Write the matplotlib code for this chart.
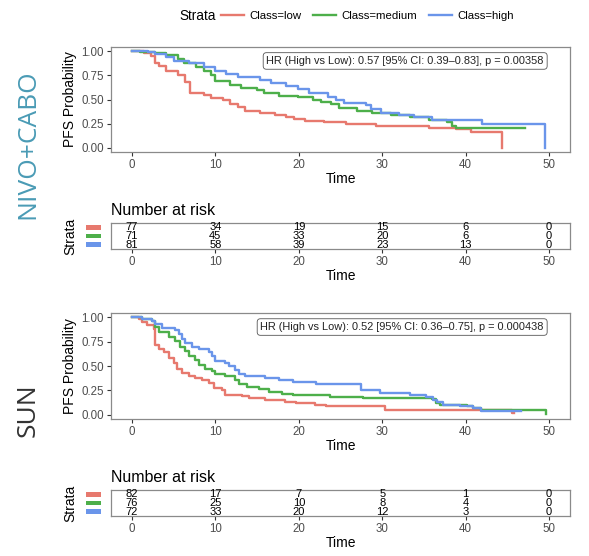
import matplotlib.pyplot as plt
from matplotlib.lines import Line2D
from matplotlib.patches import Rectangle
import matplotlib.transforms as mtransforms

plt.rcParams['font.family'] = ['Liberation Sans', 'DejaVu Sans']

# Data: Kaplan-Meier step curves (time, PFS probability)
classes = ['Class=low', 'Class=medium', 'Class=high']
colors = ['#E7796E', '#4DAF4A', '#6A95EA']
risk_times = [0, 10, 20, 30, 40, 50]

# NIVO+CABO
nc_low_t = [0, 1.4, 2.3, 2.8, 3.2, 4.1, 5.5, 6.4, 7.0, 8.6, 9.5, 10.9, 11.8, 12.7, 13.6,
            15.4, 17.2, 18.5, 19.4, 20.8, 23.0, 25.7, 29.3, 33.8, 35.6, 38.8, 40.6, 44.4]
nc_low_s = [1.0, 0.98, 0.95, 0.88, 0.85, 0.80, 0.75, 0.68, 0.57, 0.55, 0.52, 0.50, 0.45, 0.42, 0.38,
            0.36, 0.34, 0.32, 0.30, 0.28, 0.27, 0.25, 0.23, 0.22, 0.20, 0.19, 0.16, 0.0]
nc_med_t = [0, 1.0, 2.8, 4.1, 5.5, 6.3, 7.7, 8.6, 9.5, 10.0, 11.8, 13.1, 15.0, 15.8, 17.6,
            19.9, 21.7, 22.6, 23.9, 24.8, 27.0, 28.8, 31.1, 33.3, 35.6, 37.8, 38.3, 38.8, 47.1]
nc_med_s = [1.0, 0.99, 0.98, 0.96, 0.92, 0.88, 0.84, 0.80, 0.75, 0.69, 0.65, 0.62, 0.60, 0.57, 0.54,
            0.53, 0.50, 0.47, 0.45, 0.41, 0.38, 0.36, 0.34, 0.32, 0.29, 0.27, 0.23, 0.20, 0.20]
nc_high_t = [0, 1.9, 2.8, 4.1, 5.0, 6.8, 8.6, 10.0, 11.3, 12.7, 15.4, 16.7, 18.5, 19.9, 21.2,
             23.5, 24.5, 25.4, 28.1, 28.6, 29.9, 32.0, 33.8, 36.0, 41.9, 49.5]
nc_high_s = [1.0, 0.99, 0.97, 0.94, 0.90, 0.88, 0.84, 0.80, 0.76, 0.73, 0.70, 0.67, 0.64, 0.61, 0.57,
             0.53, 0.50, 0.46, 0.44, 0.40, 0.36, 0.34, 0.32, 0.29, 0.25, 0.0]
nc_risk = [[77, 34, 19, 15, 6, 0], [71, 45, 33, 20, 6, 0], [81, 58, 39, 23, 13, 0]]
nc_hr = 'HR (High vs Low): 0.57 [95% CI: 0.39\u20130.83], p = 0.00358'

# SUN
sun_low_t = [0, 0.8, 1.2, 1.8, 2.6, 2.8, 3.2, 3.8, 4.4, 5.0, 5.4, 6.0, 6.8, 7.6, 8.4, 9.2, 9.8,
             10.8, 11.2, 13.2, 14.0, 16.0, 18.4, 19.7, 22.0, 23.3, 30.3, 45.6, 45.8]
sun_low_s = [1.0, 0.98, 0.95, 0.92, 0.88, 0.72, 0.68, 0.64, 0.58, 0.53, 0.47, 0.43, 0.40, 0.38, 0.36,
             0.33, 0.27, 0.25, 0.20, 0.19, 0.17, 0.15, 0.13, 0.12, 0.10, 0.09, 0.05, 0.02, 0.02]
sun_med_t = [0, 1.2, 2.4, 2.8, 3.2, 4.4, 5.2, 5.8, 6.4, 6.8, 7.6, 8.0, 8.8, 9.6, 10.0, 11.2, 12.4,
             12.8, 13.8, 15.2, 16.4, 18.0, 19.3, 23.7, 27.7, 36.0, 36.4, 36.9, 40.2, 40.9, 41.8, 49.6, 49.6]
sun_med_s = [1.0, 0.98, 0.96, 0.90, 0.85, 0.80, 0.76, 0.70, 0.65, 0.60, 0.56, 0.51, 0.47, 0.45, 0.42,
             0.40, 0.36, 0.31, 0.28, 0.26, 0.23, 0.21, 0.20, 0.18, 0.17, 0.16, 0.12, 0.10, 0.09, 0.07,
             0.05, 0.04, 0.01]
sun_high_t = [0, 1.2, 2.4, 2.8, 3.6, 5.2, 5.6, 6.0, 6.4, 7.2, 8.0, 9.2, 9.6, 10.0, 11.2, 11.6, 12.4,
              12.8, 13.6, 16.0, 17.6, 19.3, 22.1, 27.5, 29.7, 33.3, 35.3, 36.1, 36.5, 37.3, 39.3,
              40.9, 41.8, 46.6]
sun_high_s = [1.0, 0.98, 0.96, 0.93, 0.89, 0.87, 0.83, 0.78, 0.74, 0.70, 0.67, 0.64, 0.60, 0.55, 0.53,
              0.50, 0.46, 0.42, 0.40, 0.38, 0.36, 0.34, 0.32, 0.25, 0.22, 0.20, 0.18, 0.15, 0.13, 0.10,
              0.09, 0.07, 0.04, 0.04]
sun_risk = [[82, 17, 7, 5, 1, 0], [76, 25, 10, 8, 4, 0], [72, 33, 20, 12, 3, 0]]
sun_hr = 'HR (High vs Low): 0.52 [95% CI: 0.36\u20130.75], p = 0.000438'

SPINE = '#8a8a8a'
TICKC = '#4d4d4d'


def style_axes(ax):
    for sp in ax.spines.values():
        sp.set_color(SPINE)
        sp.set_linewidth(0.9)
    ax.tick_params(direction='out', length=3, width=0.8, color='#333333',
                   labelsize=8.3, labelcolor=TICKC, pad=2)
    ax.set_xlim(-2.5, 52.5)
    ax.set_xticks(risk_times)


def km_panel(ax, curves, hr_text):
    for (t, s), c in zip(curves, colors):
        ax.step(t, s, where='post', color=c, lw=1.7)
    style_axes(ax)
    ax.set_ylim(-0.045, 1.045)
    ax.set_yticks([0, 0.25, 0.5, 0.75, 1.0])
    ax.set_yticklabels(['0.00', '0.25', '0.50', '0.75', '1.00'])
    ax.set_xlabel('Time', fontsize=10, labelpad=1)
    ax.set_ylabel('PFS Probability', fontsize=10, labelpad=3)
    ax.text(0.943, 0.915, hr_text, transform=ax.transAxes, ha='right', va='top',
            fontsize=7.9, color='#222222',
            bbox=dict(boxstyle='round,pad=0.3', facecolor='white', edgecolor='#555555', lw=0.6))


def risk_panel(ax, risk):
    style_axes(ax)
    ax.set_ylim(0.5, 3.5)
    ax.set_yticks([])
    for row, (vals, c) in enumerate(zip(risk, colors)):
        y = 3 - row
        for x, v in zip(risk_times, vals):
            ax.text(x, y, str(v), ha='center', va='center', fontsize=8, color='black')
        trans = mtransforms.blended_transform_factory(ax.transAxes, ax.transData)
        ax.add_patch(Rectangle((-0.0545, y - 0.28), 0.0327, 0.56, transform=trans,
                               color=c, clip_on=False, lw=0))
    ax.text(-0.088, 0.5, 'Strata', transform=ax.transAxes, rotation=90,
            ha='center', va='center', fontsize=10)
    ax.set_title('Number at risk', loc='left', fontsize=11.5, pad=6)
    ax.set_xlabel('Time', fontsize=10, labelpad=1)


fig = plt.figure(figsize=(5.89, 5.56), dpi=100)

ax1 = fig.add_axes([0.1885, 0.7266, 0.7793, 0.1888])
rt1 = fig.add_axes([0.1885, 0.5522, 0.7793, 0.0468])
ax2 = fig.add_axes([0.1885, 0.2464, 0.7793, 0.1906])
rt2 = fig.add_axes([0.1885, 0.0719, 0.7793, 0.0468])

km_panel(ax1, [(nc_low_t, nc_low_s), (nc_med_t, nc_med_s), (nc_high_t, nc_high_s)], nc_hr)
risk_panel(rt1, nc_risk)
km_panel(ax2, [(sun_low_t, sun_low_s), (sun_med_t, sun_med_s), (sun_high_t, sun_high_s)], sun_hr)
risk_panel(rt2, sun_risk)

# top legend
handles = [Line2D([], [], color=c, lw=1.7) for c in colors]
fig.text(0.305, 0.971, 'Strata', ha='left', va='center', fontsize=9.8)
fig.legend(handles, classes, ncol=3, loc='center', bbox_to_anchor=(0.624, 0.971),
           frameon=False, fontsize=8.2, handlelength=2.0, columnspacing=1.0,
           handletextpad=0.5)

# cohort labels
fig.text(0.048, 0.741, 'NIVO+CABO', rotation=90, ha='center', va='center',
         fontsize=19, color='#4A9BB5', family=['Open Sans', 'DejaVu Sans'])
fig.text(0.048, 0.262, 'SUN', rotation=90, ha='center', va='center',
         fontsize=19, color='#333333', family=['Open Sans', 'DejaVu Sans'])

fig.savefig('out.png', dpi=100)
